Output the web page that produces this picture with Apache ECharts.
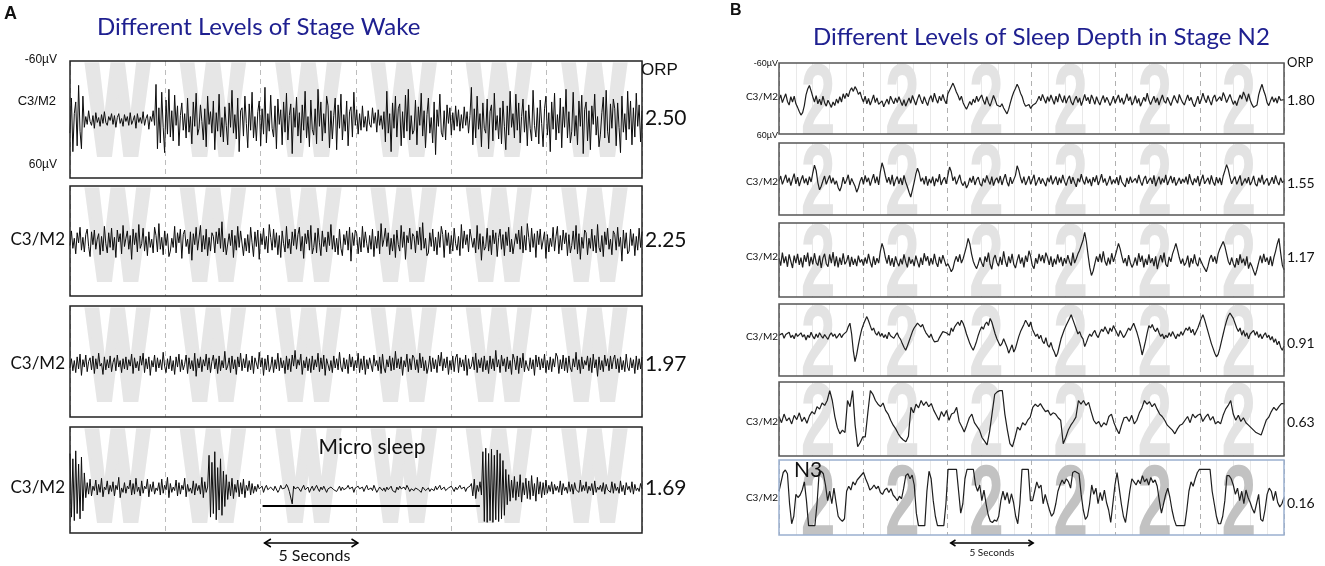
<!DOCTYPE html>
<html>
<head>
<meta charset="utf-8">
<title>ORP examples - wake and N2</title>
<script src="https://cdn.jsdelivr.net/npm/echarts@6/dist/echarts.min.js"></script>
<style>
  html, body { margin: 0; padding: 0; background: #fff; }
  #chart { width: 1325px; height: 566px; }
</style>
</head>
<body>
<div id="chart"></div>
<script>
// x = seconds in a 30 s epoch, y = microvolts (negative is drawn up, EEG style)
const epochSeconds = 30
const stageTicks = [2.5, 7.5, 12.5, 17.5, 22.5, 27.5]
const scaleBar = [10.2, 15.1]
const microSleepBar = [10.1, 21.5, 29]

const wakeOrp = ["2.50", "2.25", "1.97", "1.69"]
const n2Orp = ["1.80", "1.55", "1.17", "0.91", "0.63", "0.16"]

// Panel A, stage wake, 400 samples per epoch (one row = 0.75 s)
const wake250 = [
  14,-22,33,-6,-18,27,-35,12,30,-24, 8,-3,5,-9,2,6,-4,9,-7,3,
  -2,7,-5,4,-8,3,6,-3,1,-6, 5,-4,8,-2,-6,4,-1,7,-5,2,
  -3,6,-7,5,1,-4,9,-6,3,-2, 4,-8,6,-1,-5,10,-3,2,-9,6,
  -36,30,-12,24,-28,8,34,-20,15,-31, 18,-9,22,-25,6,-14,27,-4,-17,11,
  -6,19,-22,13,-3,25,-18,7,-27,16, 9,-15,2,21,-11,28,-24,5,-8,14,
  -19,31,-7,12,-26,18,-2,23,-13,6, 26,-17,8,-30,14,-5,20,-22,33,-9,
  -12,17,-24,4,29,-16,11,-28,19,-3, 22,-8,-19,27,-11,15,-33,24,-6,12,
  -25,9,18,-14,30,-21,5,-10,26,-18, 13,-27,21,-4,-16,35,-12,8,-23,17,
  -7,24,-15,11,-29,19,-3,28,-20,10, 16,-11,25,-31,7,-18,22,-6,14,-24,
  -14,29,-9,20,-4,-22,31,-15,9,-26, 21,-5,12,-19,27,-8,-13,18,-28,6,
  -10,15,-6,11,-14,8,-3,12,-9,5, 8,-12,4,-7,13,-10,6,-4,10,-8,
  23,-29,14,-6,33,-17,9,-24,18,-11, -16,27,-8,19,-25,12,-31,21,-4,15,
  11,-20,26,-13,6,-27,17,-9,29,-5, -22,14,-2,24,-18,36,-10,7,-26,13,
  18,-9,21,-15,4,-12,16,-7,11,-14, 7,-10,12,-5,9,-13,6,-8,14,-4,
  -33,26,-11,19,-24,10,-6,28,-17,9, 14,-21,30,-8,-15,22,-27,11,-4,20,
  -12,25,-19,7,31,-14,16,-29,8,-6, 19,-26,11,-17,24,-3,-21,13,-9,27,
  -15,9,22,-30,6,18,-12,25,-20,4, 28,-11,-24,16,-7,33,-18,10,-27,21,
  -5,14,-22,29,-13,8,-31,19,-8,24, 12,-28,17,-4,26,-19,7,-25,35,-10,
  -18,22,-9,31,-14,5,-26,16,-3,28, 15,-7,-23,19,-30,12,24,-16,9,-21,
  -11,27,-17,8,34,-24,13,-6,21,-29, 10,-19,26,-12,18,-27,7,-15,23,-9
]
const wake225 = [
  5,-11,8,-3,14,-9,2,-15,10,-4, 12,-7,-13,6,17,-10,4,-12,9,-2,
  -8,15,-5,11,-16,3,13,-9,7,-14, 10,-4,18,-12,1,-8,14,-17,6,-3,
  -11,9,-6,20,-13,4,-9,12,-18,8, 3,-14,11,-5,16,-10,7,-2,13,-15,
  -6,12,-19,9,-4,15,-11,5,-8,17, 11,-3,7,-16,13,-9,2,-13,19,-7,
  -12,6,-2,14,-10,21,-8,4,-15,10, 8,-17,12,-6,9,-13,16,-4,11,-9,
  -5,13,-10,3,-14,8,-21,12,-3,15, 14,-8,5,-12,18,-6,10,-16,7,-11,
  -9,16,-3,11,-7,13,-15,2,17,-10, 6,-12,20,-8,4,-14,9,-5,13,-18,
  -4,10,-13,7,-9,15,-6,18,-11,3, 12,-16,8,-2,14,-10,5,-13,9,-7,
  -15,11,-5,19,-8,3,-12,10,-17,14, 7,-9,13,-14,2,16,-11,6,-4,12,
  -10,5,-18,9,-6,12,-3,15,-13,8, 16,-7,4,-11,10,-15,22,-9,5,-12,
  -8,14,-4,12,-16,7,-10,3,13,-6, 9,-13,17,-5,8,-11,14,-19,6,-2,
  -14,6,-9,15,-3,11,-7,18,-12,4, 11,-17,7,-10,20,-6,2,-14,9,-8,
  -5,13,-11,4,-15,10,-20,8,-3,16, 13,-9,6,-13,11,-4,15,-10,7,-16,
  -7,18,-12,5,-9,14,-6,11,-14,3, 10,-5,16,-18,8,-11,4,-7,12,-13,
  -11,7,-3,13,-17,9,-8,21,-5,10, 6,-14,11,-6,15,-12,3,-9,17,-4,
  -13,9,-7,16,-10,5,-15,12,-2,14, 15,-8,3,-12,9,-16,13,-6,10,-19,
  -4,12,-14,7,-8,18,-11,4,-13,9, 8,-10,19,-7,12,-3,6,-15,11,-5,
  -16,14,-6,10,-12,3,-9,16,-7,13, 5,-11,9,-17,14,-8,20,-4,8,-12,
  -9,15,-3,8,-13,11,-6,13,-18,7, 12,-6,17,-10,4,-14,9,-2,15,-11,
  -7,10,-15,6,-4,22,-12,8,-9,14, 11,-13,5,-8,16,-5,10,-14,7,-10
]
const wake197 = [
  7,-3,10,-1,12,-5,8,-8,15,-2, 6,-7,11,0,-4,9,-6,13,-3,8,
  -9,5,2,14,-5,9,-2,7,-6,11, 1,-4,10,-7,6,-1,12,-3,8,-5,
  9,-2,5,-8,13,-4,7,0,10,-6, 4,-9,12,-3,8,-5,15,-1,6,-7,
  11,-4,7,-2,9,-10,5,12,-3,8, -6,10,-1,14,-5,6,-8,11,-2,9,
  3,-7,13,-4,8,-1,10,-9,16,-3, 7,-5,11,-2,5,-8,9,-4,12,0,
  -7,8,-3,13,-6,10,-1,7,-11,9, 5,-4,12,-6,8,-2,14,-5,6,-9,
  10,-3,7,-8,11,-1,9,-6,13,-4, -2,8,-10,6,-4,15,-3,9,-7,11,
  6,-5,12,-2,8,-9,10,-4,7,-1, 13,-6,9,-3,11,-7,5,-12,8,-2,
  4,-8,14,-1,7,-5,10,-3,12,-6, 9,-2,6,-9,11,-4,8,-7,15,-3,
  -5,10,-1,12,-6,7,-3,9,-10,6, 11,-4,8,-2,13,-8,6,-5,10,-1,
  7,-9,12,-3,9,-6,14,-2,8,-4, -3,11,-7,5,-1,10,-5,13,-8,7,
  12,-2,6,-6,10,-4,9,-11,7,-3, 8,-5,15,-1,6,-8,11,-3,9,-7,
  -4,9,-2,12,-9,7,-5,10,-1,13, 6,-6,11,-4,8,-2,12,-7,5,-10,
  10,-3,7,-5,14,-1,9,-6,11,-4, -8,12,-4,6,-2,10,-7,15,-3,8,
  5,-5,9,-9,12,-2,7,-4,11,-6, 9,-1,13,-6,8,-3,10,-12,6,-2,
  12,-7,5,-3,11,-5,8,-1,14,-8, -2,9,-6,13,-4,7,-9,11,-1,6,
  10,-4,8,-2,15,-7,6,-5,9,-3, 7,-8,12,-1,9,-5,11,-3,6,-9,
  -5,13,-2,8,-7,10,-4,12,-6,7, 11,-3,6,-10,9,-2,13,-5,8,-1,
  4,-6,10,-4,12,-8,7,-2,16,-5, 9,-1,11,-7,5,-3,10,-6,8,-2,
  -7,8,-3,12,-5,9,-1,11,-8,6, 10,-4,7,-2,13,-6,9,-3,8,-5
]
const wake169 = [
  -30,42,-24,46,-33,38,-18,44,-26,35, -8,20,3,16,-1,18,7,12,0,17,
  5,14,-2,19,8,11,1,16,6,13, 2,18,6,11,-3,20,9,14,3,15,
  7,10,0,17,4,16,-2,13,8,18, 1,15,7,10,-1,19,5,13,2,16,
  9,12,3,17,-1,15,6,11,-3,20, 4,14,8,12,0,18,3,16,6,11,
  -2,19,5,13,9,15,1,17,4,12, 6,16,-3,20,2,14,8,-28,42,-20,
  38,-32,45,-14,34,-24,40,-10,30,-6, 22,2,18,-2,21,5,14,0,19,3,
  16,-1,20,6,12,1,17,4,15,7, 13,5,10,12,7,14,9,6,11,13,
  8,10,12,7,9,14,11,6,10,12, 9,5,8,13,11,27,7,10,12,8,
  10,13,9,6,11,12,8,14,10,7, 12,9,6,10,13,8,11,7,9,14,
  10,12,8,6,11,9,13,10,7,12, 8,11,13,9,6,10,12,8,14,9,
  11,7,10,12,8,13,9,6,11,10, 9,12,6,10,14,11,8,7,12,9,
  13,8,11,9,7,12,10,14,8,11, 7,10,12,8,11,6,9,13,10,8,
  12,9,7,11,10,14,8,6,12,10, 9,13,10,8,12,7,11,9,6,11,
  10,8,12,14,9,11,7,10,13,8, 11,9,6,10,12,8,13,9,11,7,
  4,18,-1,21,6,13,2,17,-32,47, -36,48,-30,46,-35,48,-28,45,-34,47,
  -30,44,-22,40,-12,28,-6,24,0,20, -4,23,2,19,-6,25,3,17,-2,21,
  1,22,-5,18,4,24,-3,16,2,20, 3,17,0,15,6,13,2,16,5,12,
  7,14,1,17,4,12,8,15,2,13, 5,16,3,11,9,14,0,13,6,12,
  2,15,7,12,4,17,1,14,8,11, 6,13,3,16,5,11,9,14,2,15,
  4,12,8,15,1,13,6,17,3,11, 7,14,2,16,5,12,9,13,4,10
]

// Panel B, stage N2 (one row = 1 s for the first four traces)
const n2_180 = [
  2,-6,7,-1,-8,5,11,-3,6,-4, 9,15,22,28,24,12,-6,-16,-22,-13,
  -3,6,-5,9,1,11,-4,7,13,3, 9,15,6,12,1,8,-3,6,-8,0,
  -9,-3,-13,-18,-12,-20,-15,-7,-11,-1, 6,-4,9,0,11,3,-6,7,-1,10,
  12,4,14,7,1,10,-4,3,9,-1, 7,-3,5,12,2,13,6,-1,8,-5,
  3,11,1,-7,2,9,-3,5,12,1, -5,6,-9,1,8,-4,4,-7,3,9,
  -8,-14,-20,-26,-19,-11,-5,3,-4,7, 13,18,12,5,11,1,7,-4,5,-1,
  -6,4,10,-3,7,13,4,-5,2,11, 8,14,9,16,21,26,18,7,-3,-11,
  -17,-24,-18,-9,-3,7,13,16,10,17, 12,15,8,3,-4,4,-7,1,8,-3,
  5,-6,2,10,-4,6,-8,0,7,-5, 8,0,-5,6,11,2,-4,7,-1,12,
  3,-7,4,-2,9,-6,1,10,-3,5, 11,2,-5,7,-2,4,12,5,-4,8,
  1,-6,7,-1,10,2,-8,4,-3,11, 5,-5,8,0,13,6,-2,5,-9,3,
  10,3,-4,7,-1,11,2,-6,4,8, -2,5,12,3,-5,2,8,-7,1,7,
  11,2,-6,4,-2,8,14,5,-4,9, 2,-9,1,7,-5,4,11,-1,-6,5,
  8,-3,4,-10,-3,7,0,-7,2,10, 4,12,2,-6,1,-11,-4,5,-8,3,
  10,15,18,11,-6,-16,-24,-13,-5,7, 12,4,-3,6,-1,8,-4,3,5,2
]
const n2_155 = [
  4,-5,9,1,-7,6,-2,11,0,-9, 8,-3,12,2,-6,7,-1,10,-4,5,
  -10,-23,-14,6,18,12,3,-5,9,1, -6,7,-2,9,3,14,20,12,-3,8,
  2,-7,10,-1,6,12,22,15,4,-3, 9,-6,5,-2,11,1,-8,7,-4,10,
  -12,-27,-18,-5,6,-3,9,-7,12,2, -4,8,-2,10,-6,5,13,22,30,18,
  6,-8,-18,-10,4,-2,9,-5,11,0, 7,-4,12,-1,5,-8,10,2,-3,8,
  -6,-20,-12,3,-4,9,1,-7,6,11, 4,15,9,-2,6,-5,10,1,-3,8,
  12,-1,6,-6,3,9,-4,11,2,-2, 7,-5,10,0,-8,5,12,-3,8,1,
  -6,-22,-14,-2,7,-4,10,3,-5,9, 1,-7,11,4,-3,8,-1,6,12,-2,
  5,-6,9,2,-4,10,-2,7,-7,4, 11,1,-5,8,-3,6,13,-1,5,-8,
  3,9,-4,7,0,12,-3,5,-6,10, 2,-8,6,-1,11,4,-5,9,1,7,
  -3,10,-6,5,2,13,-2,8,-4,6, 9,-1,7,-7,4,11,0,-5,8,2,
  -2,8,-6,12,3,-4,9,-1,6,-7, 10,2,-5,7,-3,11,5,-2,8,0,
  6,-4,9,-8,3,10,-1,6,-5,12, 1,-7,8,3,-2,9,-6,5,11,-3,
  7,-2,10,-5,-14,-24,-16,-3,8,1, -4,9,2,-6,11,5,-1,7,-3,10,
  4,-5,8,12,-2,6,-7,9,3,-1, 11,5,-3,8,-6,4,10,-2,6,3
]
const n2_117 = [
  -3,9,-12,5,-6,11,-9,2,13,-7, 5,-10,8,-4,12,-8,3,-12,10,-5,
  7,-11,4,9,-7,13,-3,-10,6,11, -9,5,-13,10,-6,12,-4,8,-11,7,
  2,-8,11,-5,8,-2,10,-7,4,-1, 9,-4,6,-10,3,12,-6,8,-3,5,
  -14,-27,-18,-4,6,-8,9,-3,11,-6, 4,10,-2,7,-9,3,12,-5,6,-1,
  10,-7,3,12,-4,8,-11,2,-6,9, -3,7,-10,4,11,-5,6,-8,1,10,
  6,12,19,14,2,-6,3,-9,5,-2, -12,-22,-35,-26,-10,2,9,14,6,-4,
  5,11,-6,3,-12,7,15,-2,-8,4, 10,-5,8,-14,2,11,-6,5,-10,7,
  13,1,-9,6,-4,12,-7,3,-15,-6, 9,14,-3,6,-10,2,-8,5,-12,-4,
  8,-6,11,-2,7,-9,4,-5,10,-3, 6,-8,3,9,-12,5,-2,-10,-16,-24,
  -32,-45,-30,-8,12,25,18,6,-6,3, -10,4,-14,2,9,-4,7,-11,3,-6,
  -16,-27,-18,-6,5,-3,10,-8,4,12, 6,-4,9,-11,3,-7,12,-2,8,-9,
  5,-3,10,-6,15,2,-8,4,-12,7, 11,-5,3,-10,-18,-27,-16,-4,6,-2,
  9,4,-7,12,-3,6,-9,5,10,-4, 3,9,14,19,10,-2,-8,3,-6,6,
  -10,-18,-24,-30,-22,-10,2,8,-4,6, 12,-3,8,-9,5,-2,9,-6,14,4,
  10,18,25,15,4,-7,5,-10,3,-4, 8,-6,10,-4,-14,-26,-35,-12,8,16
]
const n2_091 = [
  -8,-5,-11,-3,-9,-6,-13,-4,-8,-2, -11,-6,-3,-12,-5,-9,0,-8,-4,-13,
  -6,-2,-10,-4,-12,-7,-3,-9,-5,-1, -8,-12,-6,-10,-3,-7,-11,-4,-9,-6,
  -14,-22,-28,-10,18,36,24,8,-6,-18, -26,-33,-39,-32,-24,-16,-20,-12,-8,-14,
  -6,-11,-4,-9,-2,-13,-7,-10,-3,-8, -12,-5,-1,6,12,17,10,2,-6,-14,
  -20,-24,-28,-25,-22,-26,-18,-12,-8,-4, -10,-2,3,6,2,-4,-9,-14,-17,-12,
  -15,-8,-20,-14,-22,-26,-30,-24,-33,-28, -20,-10,-2,6,12,17,10,2,-8,-16,
  -22,-18,-26,-30,-24,-36,-30,-20,-10,-2, 4,10,6,-2,5,12,22,15,8,20,
  14,4,-6,-14,-20,-26,-33,-28,-22,-30, -18,-12,-6,-10,-2,-8,2,6,-4,8,
  12,4,14,20,28,22,10,-2,-10,-18, -24,-30,-36,-42,-34,-26,-18,-10,-14,-6,
  -2,11,4,-4,-10,-6,-12,-16,-8,-4, -12,-18,-14,-22,-16,-10,-20,-14,-24,-18,
  -12,-6,-16,-10,-4,-8,-14,-20,-16,-22, -28,-20,-12,-2,10,25,14,2,-12,-24,
  -20,-26,-18,-14,-20,-12,-6,-10,-2,-8, -4,-12,-6,-14,-8,-2,-10,-6,-14,-8,
  -14,-20,-16,-22,-12,-18,-8,-14,-20,-28, -36,-42,-34,-24,-14,-4,6,14,22,28,
  24,14,2,-10,-22,-32,-40,-45,-44,-36, -28,-20,-14,-20,-8,-16,-6,-12,-2,-10,
  -10,-16,-8,-14,-4,-10,-2,-8,-12,-4, -8,0,-6,4,-2,8,2,12,17,10
]
const n2_063 = [
  -4,6,-8,3,-2,8,-6,1,-10,4, -3,7,-5,-12,-8,-20,-16,-26,-22,-30,
  -46,-30,-4,14,24,18,22,-30,-20,-46, 10,45,38,29,29,-10,-46,-40,-30,-24,
  -20,-26,-14,-8,2,10,16,24,30,34, 37,28,-19,-10,-24,-18,-30,-22,-28,-20,
  -25,-14,-6,2,-12,-4,-14,2,-8,-10, -19,4,12,21,10,-2,-8,6,12,18,
  30,36,42,20,-10,-40,-44,-46,-46,-8, 18,40,45,30,13,18,6,10,2,-3,
  -19,-24,-20,-25,-18,-12,-14,-6,-10,-8, -2,2,40,30,18,10,4,-3,-30,-24,
  -30,-22,-27,-12,2,8,4,13,6,10, -4,-8,6,16,24,10,-2,-3,4,-6,
  8,2,-10,-18,-30,-24,-28,-20,-25,-16, -8,-4,2,10,14,18,24,16,10,8,
  2,-4,6,-8,-2,-6,-8,4,-3,-8, 2,-4,8,4,8,-6,-16,-22,-30,-8,
  2,-6,4,-2,6,10,14,18,22,24, 26,14,2,-3,-12,-19,-14,-20,-25,-25
]
const n3_016 = [
  -10,-25,-40,-44,-38,10,42,30,-5,0, -4,-12,-25,5,45,45,45,45,10,-40,
  -42,-38,-20,5,-10,10,-15,8,30,35, 38,34,-10,-18,-12,-25,-20,-28,-32,-36,
  -40,-30,-22,-12,-15,-20,-14,-18,-8,-5, -12,-15,-8,-14,-4,0,5,-2,2,-15,
  -35,-38,-30,-36,-20,25,45,45,45,45, -10,-42,-30,5,30,45,45,45,45,10,
  -45,-45,-45,-45,-45,-10,25,10,-30,-45, -45,-45,-45,-20,-10,-20,5,-12,10,28,
  38,40,36,38,30,5,-10,4,-8,10, -6,8,30,42,10,-45,-45,-45,-45,5,
  5,-10,-25,-15,-20,10,-5,8,20,30, 25,10,-10,-20,-28,-22,-30,-25,-15,-40,
  -42,-40,-38,-5,20,35,30,10,-20,-5, -15,10,-8,5,-12,8,20,40,10,-20,
  -40,-15,10,30,40,15,-10,-30,-25,-20, -28,-22,-35,-25,-30,-20,-32,-24,-28,-18,
  5,25,10,-5,-15,0,20,35,45,45, 45,45,45,20,-10,-25,-18,-30,-40,-45,
  -45,-45,-45,-45,-45,-10,10,30,42,42, 30,5,-35,-35,-30,-20,-5,-15,5,-10,
  10,-12,0,8,18,25,10,-5,35,38, 20,-5,-15,-10,5,-10,8,15,10,0
]

const wakeTraces = [wake250, wake225, wake197, wake169]
const n2Traces = [n2_180, n2_155, n2_117, n2_091, n2_063, n3_016]

// ---- layout (pixels) ----
const panelA = { left: 70, width: 572, rows: [[61, 117], [186, 110], [306, 111], [427, 106]] }
const panelB = { left: 779, width: 505, rows: [[63, 71], [143, 72], [223, 74], [304, 72], [382, 74], [460, 75]] }

const calibri = 'Lato, "Open Sans", sans-serif'
const arial = '"Liberation Sans", Arial, sans-serif'

const grids = []
const xAxes = []
const yAxes = []
const series = []

function addRow(left, width, top, height, trace, opts) {
    const i = grids.length
    grids.push({
        left: left, top: top, width: width, height: height,
        show: true, z: 10, backgroundColor: "transparent",
        borderColor: opts.border, borderWidth: 1.5,
        outerBoundsMode: "none", containLabel: false
    })
    xAxes.push({
        type: "value", gridIndex: i, min: 0, max: epochSeconds, interval: 5,
        axisLine: { show: false }, axisTick: { show: false }, axisLabel: { show: false },
        splitLine: { show: true, lineStyle: { color: opts.dash, width: 1, type: [5, 4] } },
        minorTick: { show: false, splitNumber: 5 },
        minorSplitLine: { show: opts.minor, lineStyle: { color: "#e9e9e9", width: 1 } }
    })
    yAxes.push({ type: "value", gridIndex: i, min: -60, max: 60, inverse: true, show: false })

    // big grey stage letter in every 5 s block
    series.push({
        type: "custom", xAxisIndex: i, yAxisIndex: i, z: 1, silent: true, clip: true,
        data: stageTicks.map(t => [t, 0]),
        renderItem: (params, api) => {
            const p = api.coord([api.value(0), 0])
            const cs = params.coordSys
            return {
                type: "text",
                x: p[0] + opts.glyphDx, y: cs.y + opts.glyphMid,
                scaleX: opts.glyphScaleX,
                style: {
                    legacy: false,
                    text: opts.glyph, fill: opts.glyphColor,
                    stroke: opts.glyphStroke ? opts.glyphColor : null, lineWidth: opts.glyphStroke,
                    font: "bold " + opts.glyphSize + "px " + arial,
                    align: "center", verticalAlign: "middle"
                }
            }
        }
    })
    series.push({
        type: "line", xAxisIndex: i, yAxisIndex: i, z: 3,
        data: trace.map((v, j) => [j * epochSeconds / (trace.length - 1), v]),
        showSymbol: false, symbol: "none", silent: true,
        lineStyle: { color: opts.line, width: opts.lineWidth },
        markLine: opts.markLine
    })
}

panelA.rows.forEach((r, k) => {
    addRow(panelA.left, panelA.width, r[0], r[1], wakeTraces[k], {
        border: "#222", dash: "#bdbdbd", minor: false,
        glyph: "W", glyphColor: "#e6e6e6", glyphSize: 122, glyphScaleX: 0.52,
        glyphStroke: 10, glyphMid: 57, glyphDx: 0,
        line: "#0d0d0d", lineWidth: 1,
        markLine: k === 3 ? {
            silent: true, symbol: "none", label: { show: false },
            lineStyle: { color: "#000", width: 2, type: "solid" },
            data: [[{ coord: [microSleepBar[0], microSleepBar[2]] }, { coord: [microSleepBar[1], microSleepBar[2]] }]]
        } : undefined
    })
})

panelB.rows.forEach((r, k) => {
    const n3 = k === 5
    addRow(panelB.left, panelB.width, r[0], r[1], n2Traces[k], {
        border: n3 ? "#9bb0cf" : "#555", dash: "#b0b0b0", minor: true,
        glyph: "2", glyphColor: n3 ? "#c2c2c2" : "#e3e3e3", glyphSize: 104, glyphScaleX: 0.6,
        glyphStroke: 0, glyphMid: n3 ? 48 : 44, glyphDx: -3,
        line: "#1e1e1e", lineWidth: 1.2
    })
})

const chart = echarts.init(document.getElementById("chart"), null, { renderer: "canvas" })
chart.setOption({
    backgroundColor: "#fff",
    animation: false,
    tooltip: { show: false },
    grid: grids,
    xAxis: xAxes,
    yAxis: yAxes,
    series: series
})

// ---- texts and scale bars ----
function label(x, y, text, font, align, color) {
    return {
        type: "text", x: x, y: y, silent: true, z: 20,
        style: {
            legacy: false, text: text, font: font, fill: color || "#111",
            align: align || "left", verticalAlign: "middle"
        }
    }
}

function arrowBar(gridIndex, y, size) {
    const a = chart.convertToPixel({ gridIndex: gridIndex }, [scaleBar[0], 0])[0]
    const b = chart.convertToPixel({ gridIndex: gridIndex }, [scaleBar[1], 0])[0]
    const w = size
    return [{
        type: "group", silent: true, z: 20,
        children: [
            { type: "line", shape: { x1: a, y1: y, x2: b, y2: y }, style: { stroke: "#000", lineWidth: 1.5 } },
            { type: "polyline", shape: { points: [[a + w * 1.6, y - w], [a, y], [a + w * 1.6, y + w]] }, style: { stroke: "#000", lineWidth: 1.5, fill: null } },
            { type: "polyline", shape: { points: [[b - w * 1.6, y - w], [b, y], [b - w * 1.6, y + w]] }, style: { stroke: "#000", lineWidth: 1.5, fill: null } }
        ]
    }, a, b]
}

const barA = arrowBar(3, 543, 4)
const barB = arrowBar(9, 543, 3)

const texts = [
    label(4, 14, "A", "bold 18px " + arial),
    label(97, 27, "Different Levels of Stage Wake", "24px " + calibri, "left", "#1f2090"),
    label(641, 70, "ORP", "17px " + arial),
    label(57, 60, "-60µV", "12px " + arial, "right"),
    label(57, 165, "60µV", "12px " + arial, "right"),
    label(56, 101, "C3/M2", "13px " + arial, "right"),
    label(65, 240, "C3/M2", "17px " + calibri, "right"),
    label(65, 364, "C3/M2", "17px " + calibri, "right"),
    label(65, 488, "C3/M2", "17px " + calibri, "right"),
    label(372, 447, "Micro sleep", "21px " + calibri, "center"),
    label(barA[1] + 14, 556, "5 Seconds", "16px " + calibri),

    label(730, 11, "B", "bold 16px " + arial),
    label(813, 37, "Different Levels of Sleep Depth in Stage N2", "24px " + calibri, "left", "#1f2090"),
    label(1287, 63, "ORP", "13px " + calibri),
    label(778, 64, "-60µV", "9px " + arial, "right"),
    label(778, 136, "60µV", "9px " + arial, "right"),
    label(808, 470, "N3", "21px " + calibri, "center"),
    label((barB[1] + barB[2]) / 2, 553, "5 Seconds", "10px " + calibri, "center"),
    barA[0], barB[0]
]

const wakeValueY = [118, 240, 364, 488]
wakeOrp.forEach((v, k) => texts.push(label(645, wakeValueY[k], v, "21px " + calibri)))

const n2LabelY = [97, 182, 257, 337, 422, 498]
const n2ValueY = [100, 183, 257, 343, 422, 503]
n2Orp.forEach((v, k) => {
    texts.push(label(778, n2LabelY[k], "C3/M2", "10px " + calibri, "right"))
    texts.push(label(1287, n2ValueY[k], v, "14px " + calibri))
})

chart.setOption({ graphic: { elements: texts } })

window.addEventListener("resize", () => chart.resize())
</script>
</body>
</html>
